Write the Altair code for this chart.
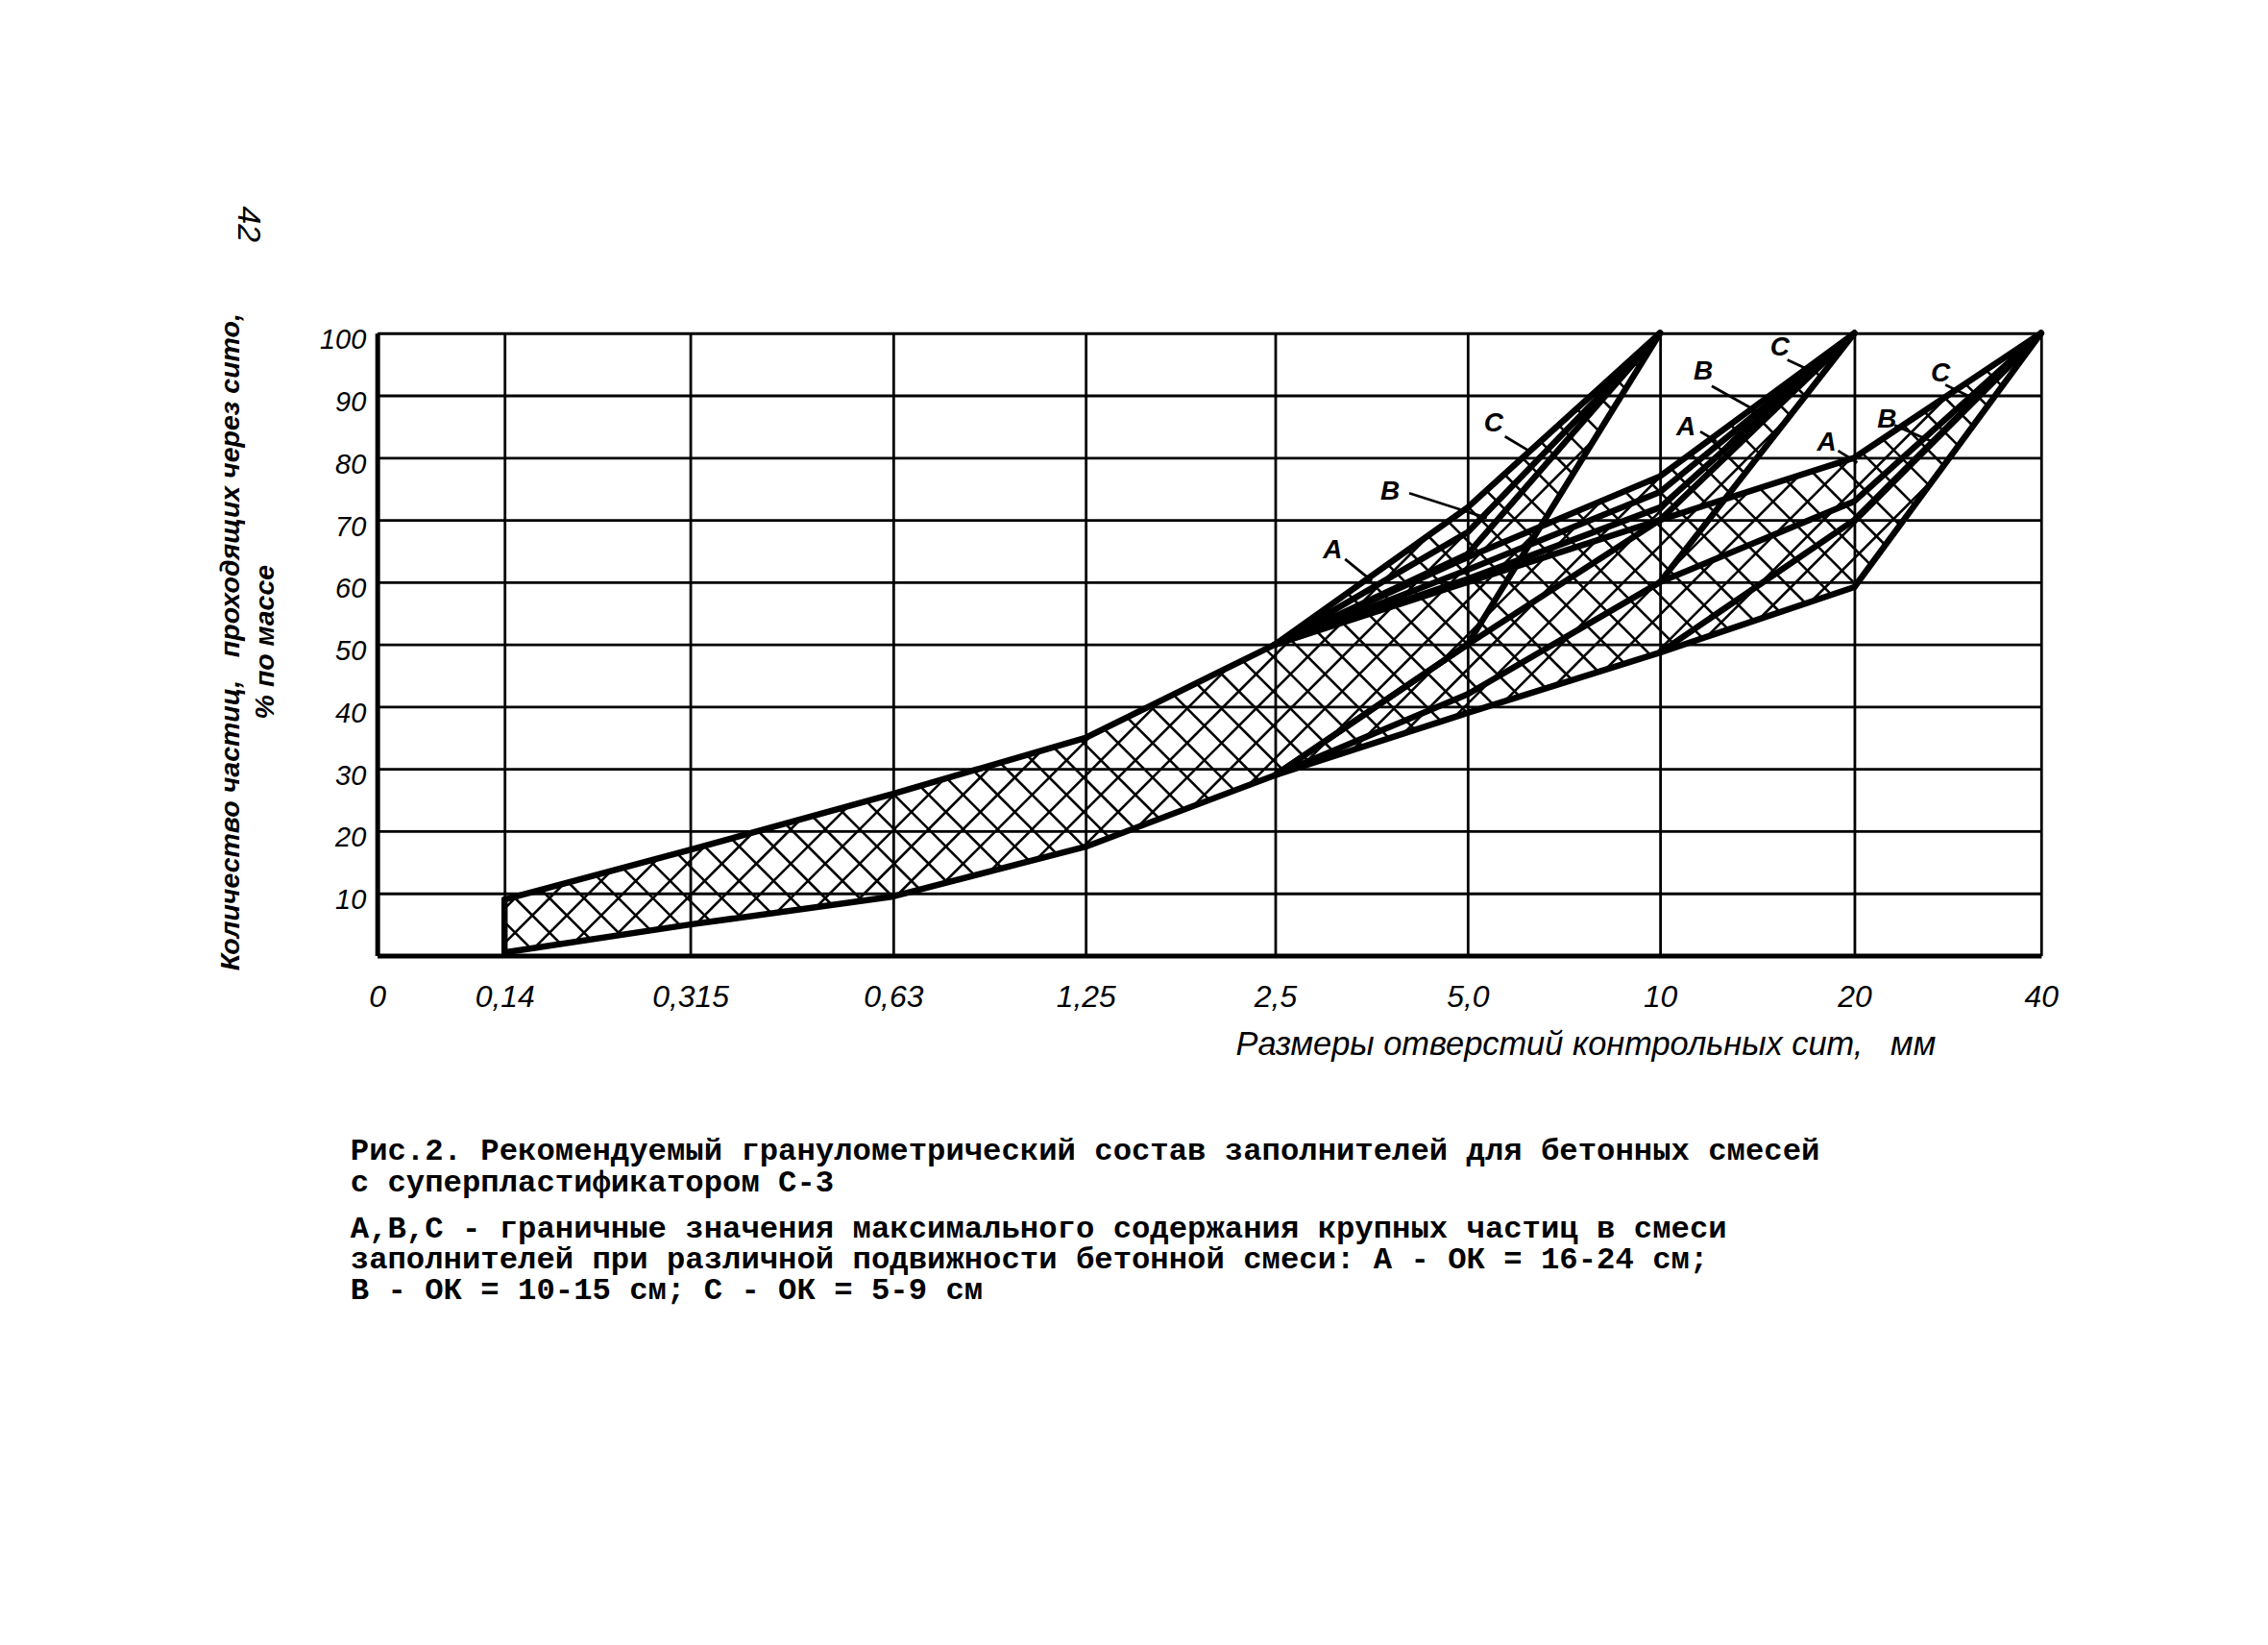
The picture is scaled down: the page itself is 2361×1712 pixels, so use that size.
import json
import numpy as np
import pandas as pd
import altair as alt

# ---------------- data ----------------
SIEVE_LABELS = ["0", "0,14", "0,315", "0,63", "1,25", "2,5", "5,0", "10", "20", "40"]
SIEVE_MM = [0, 0.14, 0.315, 0.63, 1.25, 2.5, 5.0, 10, 20, 40]
SIEVE_POS = [0, 0.665, 1.635, 2.695, 3.70, 4.69, 5.695, 6.70, 7.715, 8.69]

Y_TICKS = [0, 10, 20, 30, 40, 50, 60, 70, 80, 90, 100]

# common envelope
ENV_UP_MM = [0.14, 0.315, 0.63, 1.25, 2.5]
ENV_UP = [9, 17, 26, 35, 50]
ENV_LOW_MM = [0.14, 0.315, 0.63, 1.25, 2.5, 5, 10, 20, 40]
ENV_LOW = [0.5, 5, 9.5, 17.5, 29, 39, 48.7, 59.2, 100]
EDGE_MM = [0.14, 0.14]
EDGE = [0.5, 9]

# Dmax = 10 mm
D10_MM = [2.5, 5, 10]
D10_C = [50, 72, 100]
D10_B = [50, 68, 100]
D10_A = [50, 64.5, 100]
D10_LOW = [29, 50, 100]

# Dmax = 20 mm
D20_MM = [2.5, 5, 10, 20]
D20_C = [50, 64, 77, 100]
D20_B = [50, 62, 74.5, 100]
D20_A = [50, 60.5, 72, 100]
D20_MID = [29, 50, 70, 100]
D20_LOW = [29, 42, 60, 100]

# Dmax = 40 mm
D40_MM = [2.5, 5, 10, 20, 40]
D40_A = [50, 60, 70, 80, 100]
D40_B_MM = [10, 20, 40]
D40_B = [60, 73, 100]
D40_C_MM = [10, 20, 40]
D40_C = [48.7, 70, 100]

# curve labels (А, В, С) and their leader lines, in chart units
LABEL_TEXT = ["А", "В", "С", "А", "В", "С", "А", "В", "С"]
LABEL_X = [4.99, 5.29, 5.83, 6.835, 6.925, 7.325, 7.57, 7.885, 8.165]
LABEL_Y = [65.0, 74.5, 85.4, 84.9, 93.8, 97.7, 82.3, 86.0, 93.4]
LEADER_X1 = [5.055, 5.39, 5.89, 6.91, 6.97, 7.365, 7.63, 7.925, 8.19]
LEADER_Y1 = [63.7, 74.3, 83.4, 84.2, 91.5, 95.7, 81.1, 85.2, 91.7]
LEADER_X2 = [5.195, 5.795, 6.015, 6.995, 7.225, 7.47, 7.73, 8.12, 8.325]
LEADER_Y2 = [60.2, 70.3, 81.1, 82.6, 87.1, 94.2, 79.2, 82.6, 89.7]

PAGE_NO = "42"
PAGE_NO_X = [-0.675]
PAGE_NO_Y = [117.5]

NB = "\u00a0"
X_TITLE = "Размеры отверстий контрольных сит," + NB * 3 + "мм"
Y_TITLE = ["Количество частиц," + NB * 3 + "проходящих через сито,", NB * 8 + "% по массе"]
CAPTION = ["Рис.2. Рекомендуемый гранулометрический состав заполнителей для бетонных смесей",
           "с суперпластификатором С-3"]
NOTE = [NB * 4 + "А,В,С - граничные значения максимального содержания крупных частиц в смеси",
        "заполнителей при различной подвижности бетонной смеси: А - ОК = 16-24 см;",
        "В - ОК = 10-15 см; С - ОК = 5-9 см"]

# ---------------- layout ----------------
W, H = 1738, 650
PITCH = 36  # hatch pitch in px

def to_pos(mm_list):
    return [SIEVE_POS[SIEVE_MM.index(m)] for m in mm_list]

CURVES = {
    "env_up": (ENV_UP_MM, ENV_UP),
    "env_low": (ENV_LOW_MM, ENV_LOW),
    "edge": (EDGE_MM, EDGE),
    "d10_c": (D10_MM, D10_C),
    "d10_b": (D10_MM, D10_B),
    "d10_a": (D10_MM, D10_A),
    "d10_low": (D10_MM, D10_LOW),
    "d20_c": (D20_MM, D20_C),
    "d20_b": (D20_MM, D20_B),
    "d20_a": (D20_MM, D20_A),
    "d20_mid": (D20_MM, D20_MID),
    "d20_low": (D20_MM, D20_LOW),
    "d40_a": (D40_MM, D40_A),
    "d40_b": (D40_B_MM, D40_B),
    "d40_c": (D40_C_MM, D40_C),
}
rows = []
for name, (mm, vals) in CURVES.items():
    for i, (p, v) in enumerate(zip(to_pos(mm), vals)):
        rows.append({"series": name, "i": i, "pos": p, "pct": v})
curves_df = pd.DataFrame(rows)

# union of the three grading bands -> cross hatching
BANDS = [
    (ENV_UP_MM + D10_MM[1:], ENV_UP + D10_C[1:], ENV_LOW_MM[:5] + D10_MM[1:], ENV_LOW[:5] + D10_LOW[1:], 10),
    (ENV_UP_MM + D20_MM[1:], ENV_UP + D20_C[1:], ENV_LOW_MM[:5] + D20_MM[1:], ENV_LOW[:5] + D20_LOW[1:], 20),
    (ENV_UP_MM + D40_MM[1:], ENV_UP + D40_A[1:], ENV_LOW_MM, ENV_LOW, 40),
]

def inside(pos, pct):
    m = np.zeros(pos.shape, dtype=bool)
    for top_mm, top_v, low_mm, low_v, dmax in BANDS:
        tp, lp = to_pos(top_mm), to_pos(low_mm)
        ok = (pos >= tp[0]) & (pos <= to_pos([dmax])[0])
        ut = np.interp(pos, tp, top_v)
        lt = np.interp(pos, lp, low_v)
        m |= ok & (pct <= ut) & (pct >= lt)
    return m

PXU = W / SIEVE_POS[-1]
PYU = H / 100.0
hatch = []
px = np.arange(0, W + 0.01, 0.5)
for s in (1, -1):
    for c in np.arange(-(W + H), W + H, PITCH):
        py = s * px + c
        mask = (py >= 0) & (py <= H)
        mask &= inside(px / PXU, py / PYU)
        if not mask.any():
            continue
        d = np.diff(np.concatenate([[0], mask.astype(int), [0]]))
        starts = np.where(d == 1)[0]
        ends = np.where(d == -1)[0] - 1
        for a, b in zip(starts, ends):
            if b - a < 2:
                continue
            hatch.append({"x": px[a] / PXU, "y": py[a] / PYU, "x2": px[b] / PXU, "y2": py[b] / PYU})
hatch_df = pd.DataFrame(hatch)

labels_df = pd.DataFrame({"t": LABEL_TEXT, "x": LABEL_X, "y": LABEL_Y})
leaders_df = pd.DataFrame({"x": LEADER_X1, "y": LEADER_Y1, "x2": LEADER_X2, "y2": LEADER_Y2})
page_df = pd.DataFrame({"t": [PAGE_NO], "x": PAGE_NO_X, "y": PAGE_NO_Y})

# ---------------- chart ----------------
SANS = "Liberation Sans, Arial, sans-serif"
MONO = "Liberation Mono, DejaVu Sans Mono, monospace"

xscale = alt.Scale(domain=[0, SIEVE_POS[-1]], nice=False, zero=False)
yscale = alt.Scale(domain=[0, 100], nice=False, zero=False)

label_expr = f"{json.dumps(SIEVE_LABELS, ensure_ascii=False)}[indexof({json.dumps(SIEVE_POS)}, datum.value)]"

xaxis = alt.Axis(values=SIEVE_POS, labelExpr=label_expr, grid=True, gridColor="black", gridWidth=2.8,
                 gridOpacity=1, domainColor="black", domainWidth=5, ticks=False,
                 labelFont=SANS, labelFontStyle="italic", labelFontSize=32, labelColor="black",
                 labelPadding=28, labelFlush=False, labelOverlap=False,
                 title=X_TITLE, titleFont=SANS, titleFontStyle="italic", titleFontWeight="normal",
                 titleFontSize=34.5, titleColor="black", titleX=1262, titleY=93, titleAlign="center",
                 titleBaseline="middle", titleAnchor="start")
yaxis = alt.Axis(values=Y_TICKS, labelExpr="datum.value == 0 ? '' : datum.label", grid=True,
                 gridColor="black", gridWidth=2.8, gridOpacity=1, domainColor="black", domainWidth=5,
                 ticks=False, labelFont=SANS, labelFontStyle="italic", labelFontSize=29,
                 labelColor="black", labelPadding=12, labelOffset=7, labelFlush=False,
                 title=Y_TITLE, titleFont=SANS, titleFontStyle="italic", titleFontWeight="bold",
                 titleFontSize=28.6, titleColor="black", titleAngle=270, titleAlign="center",
                 titleBaseline="top", titleX=-168, titleY=322, titleLineHeight=36, titleAnchor="start")

def X(field):
    return alt.X(field, scale=xscale, axis=xaxis)

def Y(field):
    return alt.Y(field, scale=yscale, axis=yaxis)

curves = alt.Chart(curves_df).mark_line(color="black", strokeWidth=6.5, strokeJoin="round",
                                          strokeCap="round").encode(
    x=X("pos:Q"), y=Y("pct:Q"), detail="series:N", order="i:Q",
)

hatch_layer = alt.Chart(hatch_df).mark_rule(color="black", strokeWidth=2.6).encode(
    x=X("x:Q"), y=Y("y:Q"), x2="x2:Q", y2="y2:Q",
)

leaders = alt.Chart(leaders_df).mark_rule(color="black", strokeWidth=2.8).encode(
    x=X("x:Q"), y=Y("y:Q"), x2="x2:Q", y2="y2:Q",
)

labels = alt.Chart(labels_df).mark_text(font=SANS, fontStyle="italic", fontWeight="bold",
                                        fontSize=28, color="black").encode(
    x=X("x:Q"), y=Y("y:Q"), text="t:N",
)

page = alt.Chart(page_df).mark_text(font=SANS, fontStyle="italic", fontSize=34, angle=90,
                                    color="black").encode(
    x=X("x:Q"), y=Y("y:Q"), text="t:N",
)

chart = alt.layer(curves, hatch_layer, leaders, labels, page).properties(
    width=W, height=H,
    autosize=alt.AutoSizeParams(type="none"),
    padding={"left": 386, "top": 337, "right": 229, "bottom": 710},
    title=alt.TitleParams(
        text=CAPTION, subtitle=NOTE, orient="bottom", anchor="start", frame="group",
        font=MONO, fontSize=32.4, fontWeight="bold", color="black", lineHeight=32.4,
        subtitleFont=MONO, subtitleFontSize=32.4, subtitleFontWeight="bold", subtitleColor="black",
        subtitleLineHeight=32.4, subtitlePadding=16, offset=78, dx=-28,
    ),
).configure_view(strokeWidth=0).configure(background="white")

chart.save("out.html", embed_options={"renderer": "svg", "actions": False})
